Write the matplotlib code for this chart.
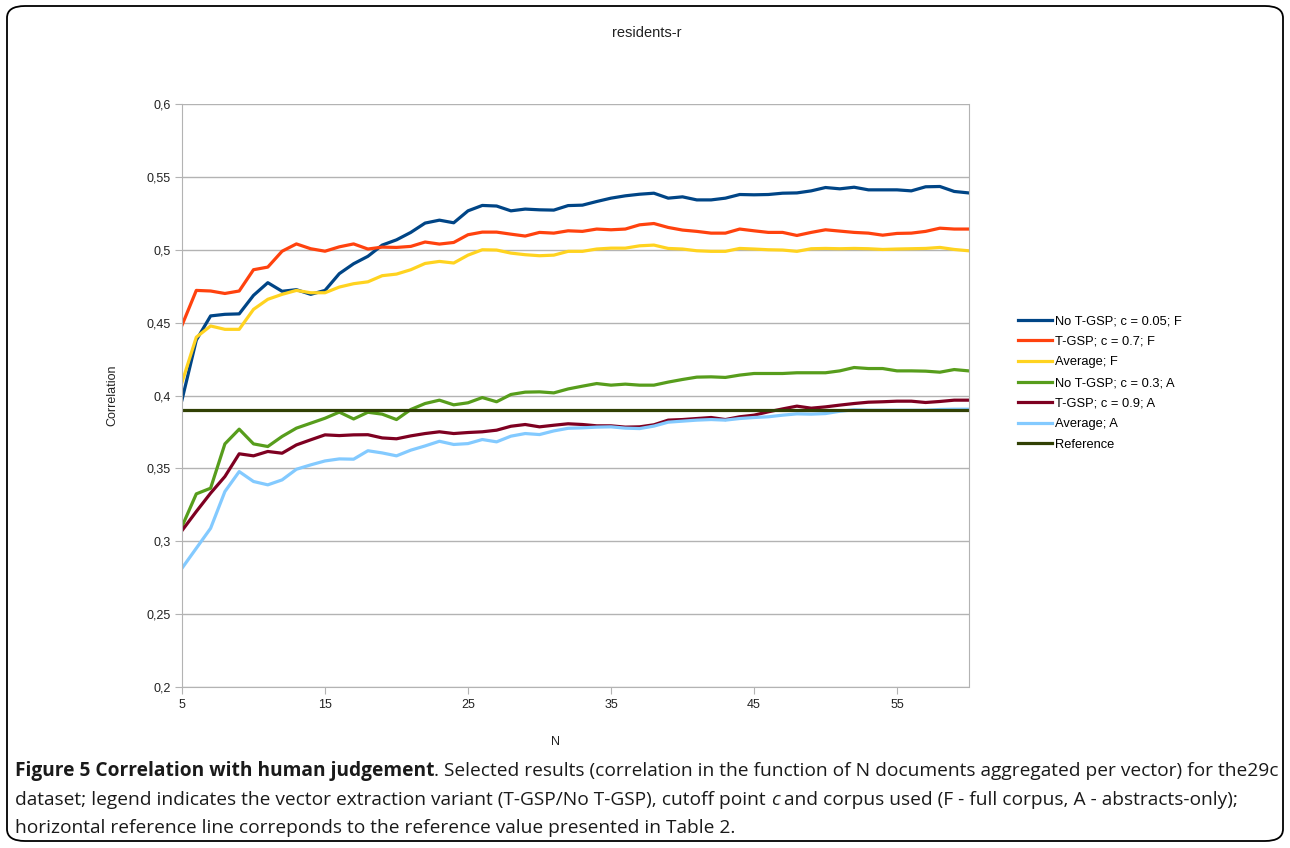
import matplotlib
matplotlib.use("Agg")
import matplotlib.pyplot as plt
from matplotlib.patches import FancyBboxPatch

n_docs = list(range(5, 61))

no_tgsp_f = [0.397, 0.438, 0.4546, 0.4557, 0.456, 0.4687, 0.4774, 0.4715, 0.4726, 0.4694,
             0.4721, 0.4836, 0.4904, 0.4955, 0.5032, 0.5068, 0.5119, 0.5183, 0.5203, 0.5185,
             0.5267, 0.5304, 0.530, 0.5267, 0.5279, 0.5274, 0.5272, 0.5303, 0.5306, 0.5331,
             0.5354, 0.537, 0.5381, 0.5388, 0.5354, 0.5363, 0.5342, 0.5342, 0.5354, 0.5379,
             0.5377, 0.5379, 0.5388, 0.539, 0.5404, 0.5427, 0.5418, 0.5429, 0.5411, 0.5411,
             0.5411, 0.5404, 0.5432, 0.5434, 0.540, 0.539]
tgsp_07_f = [0.4482, 0.4721, 0.4717, 0.470, 0.4717, 0.4863, 0.4881, 0.499, 0.504, 0.5007,
             0.499, 0.502, 0.504, 0.5005, 0.5018, 0.5016, 0.5023, 0.5053, 0.5039, 0.505,
             0.5103, 0.5121, 0.5121, 0.5107, 0.5094, 0.5119, 0.5114, 0.513, 0.5126, 0.5142,
             0.5137, 0.5142, 0.5171, 0.518, 0.5153, 0.5135, 0.5126, 0.5114, 0.5114, 0.5142,
             0.513, 0.5119, 0.5119, 0.5098, 0.5119, 0.5137, 0.5128, 0.5119, 0.5114, 0.510,
             0.5112, 0.5114, 0.5126, 0.5148, 0.5142, 0.5142]
average_f = [0.409, 0.440, 0.4477, 0.4454, 0.4454, 0.4591, 0.466, 0.4694, 0.4721, 0.4705,
             0.4705, 0.4744, 0.4767, 0.478, 0.4822, 0.4833, 0.4863, 0.4906, 0.492, 0.4909,
             0.4963, 0.500, 0.4998, 0.4977, 0.4966, 0.4959, 0.4963, 0.4989, 0.4989, 0.5005,
             0.5011, 0.5011, 0.5027, 0.5032, 0.5009, 0.5005, 0.4993, 0.4989, 0.4989, 0.5009,
             0.5005, 0.500, 0.4998, 0.4989, 0.5007, 0.5009, 0.5007, 0.5009, 0.5007, 0.5002,
             0.5005, 0.5007, 0.5009, 0.5016, 0.5002, 0.4993]
no_tgsp_a = [0.3101, 0.3325, 0.3364, 0.3668, 0.3769, 0.3668, 0.365, 0.3719, 0.3776, 0.381,
             0.3844, 0.3886, 0.3839, 0.3885, 0.3872, 0.3835, 0.3904, 0.3945, 0.3968, 0.3936,
             0.395, 0.3986, 0.3957, 0.4007, 0.4023, 0.4025, 0.4018, 0.4045, 0.4064, 0.4082,
             0.4071, 0.4078, 0.4071, 0.4071, 0.4092, 0.411, 0.4126, 0.4128, 0.4124, 0.414,
             0.4151, 0.4151, 0.4151, 0.4156, 0.4156, 0.4156, 0.4169, 0.4192, 0.4185, 0.4185,
             0.4169, 0.4169, 0.4167, 0.416, 0.4178, 0.4169]
tgsp_09_a = [0.3073, 0.3204, 0.333, 0.3444, 0.360, 0.3586, 0.3616, 0.3604, 0.3661, 0.3696,
             0.373, 0.3725, 0.373, 0.3731, 0.3709, 0.3703, 0.3723, 0.3739, 0.3751, 0.3739,
             0.3746, 0.3751, 0.3762, 0.3789, 0.3801, 0.3785, 0.3796, 0.3806, 0.3801, 0.3792,
             0.3792, 0.3783, 0.3785, 0.3799, 0.3831, 0.3835, 0.3842, 0.3849, 0.3835, 0.3854,
             0.3865, 0.3888, 0.3908, 0.3927, 0.3913, 0.3922, 0.3934, 0.3945, 0.3954, 0.3957,
             0.3961, 0.3961, 0.3952, 0.3959, 0.3968, 0.3968]
average_a = [0.2815, 0.2952, 0.3089, 0.3341, 0.3478, 0.341, 0.3387, 0.3421, 0.3494, 0.3524,
             0.3551, 0.3565, 0.3563, 0.3621, 0.3606, 0.3586, 0.3625, 0.3654, 0.3686, 0.3664,
             0.367, 0.3698, 0.3682, 0.3721, 0.3739, 0.3732, 0.3757, 0.3775, 0.3778, 0.3783,
             0.3785, 0.3776, 0.3773, 0.379, 0.3817, 0.3824, 0.3831, 0.3835, 0.3831, 0.3842,
             0.3849, 0.3854, 0.3865, 0.3874, 0.3872, 0.3876, 0.3892, 0.3902, 0.3899, 0.3899,
             0.3899, 0.3899, 0.3899, 0.3904, 0.3906, 0.3906]
reference_value = 0.39

series_labels = ["No T-GSP; c = 0.05; F", "T-GSP; c = 0.7; F", "Average; F",
                 "No T-GSP; c = 0.3; A", "T-GSP; c = 0.9; A", "Average; A", "Reference"]
series_colors = ["#004586", "#ff420e", "#ffd320", "#579d1c", "#7e0021", "#83caff", "#314004"]

x_ticks = [5, 15, 25, 35, 45, 55]
y_ticks = [0.2, 0.25, 0.3, 0.35, 0.4, 0.45, 0.5, 0.55, 0.6]
y_tick_labels = ["0,2", "0,25", "0,3", "0,35", "0,4", "0,45", "0,5", "0,55", "0,6"]

plt.rcParams["font.family"] = ["Liberation Sans", "DejaVu Sans"]

W, H = 1290, 848
fig = plt.figure(figsize=(W / 100, H / 100), dpi=100)
ax = fig.add_axes([182 / W, 1 - 687 / H, (968.5 - 182) / W, (687 - 104) / H])

all_series = [no_tgsp_f, tgsp_07_f, average_f, no_tgsp_a, tgsp_09_a, average_a,
              [reference_value] * len(n_docs)]
for vals, lab, col in zip(all_series, series_labels, series_colors):
    ax.plot(n_docs, vals, color=col, lw=2.3, label=lab, solid_joinstyle="round")

ax.set_xlim(5, 60)
ax.set_ylim(0.2, 0.6)
ax.set_xticks(x_ticks)
ax.set_yticks(y_ticks)
ax.set_yticklabels(y_tick_labels)
ax.grid(axis="y", color="#b3b3b3", lw=1)
ax.set_axisbelow(True)
for side in ["left", "bottom", "right"]:
    ax.spines[side].set_color("#b3b3b3")
ax.spines["top"].set_visible(False)
ax.tick_params(axis="both", colors="#b3b3b3", labelcolor="#222222", labelsize=9,
               length=5, direction="out")
ax.tick_params(axis="x", pad=4)
ax.tick_params(axis="y", pad=3)
ax.tick_params(right=False)

fig.text(647 / W, 1 - 33 / H, "residents-r", ha="center", va="center", fontsize=10.5,
         color="#222222")
fig.text(112 / W, 1 - 395 / H, "Correlation", ha="center", va="center", rotation=90,
         fontsize=9, color="#222222")
fig.text(555 / W, 1 - 742 / H, "N", ha="center", va="center", fontsize=9, color="#222222")

fig.legend(loc="center left", bbox_to_anchor=(1018 / W, 1 - 383 / H), frameon=False,
           fontsize=9.3, handlelength=2.6, handletextpad=0.3, labelspacing=0.66,
           borderpad=0, borderaxespad=0)

# rounded frame around chart and caption
frame = FancyBboxPatch((7 / W, 7 / H), (1283 - 7) / W, (842 - 7) / H,
                       boxstyle="round,pad=0,rounding_size=0.014",
                       transform=fig.transFigure, fill=False, ec="black", lw=1.3)
fig.patches.append(frame)

# caption, drawn piece by piece so bold/italic parts can share a line
cap_font = ["Open Sans", "DejaVu Sans"]
renderer = fig.canvas.get_renderer()

caption = [
    (771, [("Figure 5 Correlation with human judgement", "bold", "normal"),
           (". Selected results (correlation in the function of N documents "
            "aggregated per vector) for the29c", "normal", "normal")]),
    (800, [("dataset; legend indicates the vector extraction variant (T-GSP/No T-GSP), "
            "cutoff point ", "normal", "normal"),
           ("c", "normal", "italic"),
           (" and corpus used (F - full corpus, A - abstracts-only);", "normal", "normal")]),
    (828, [("horizontal reference line correponds to the reference value presented "
            "in Table 2.", "normal", "normal")]),
]


def caption_line(y_px, pieces, size):
    x = 15 / W
    texts = []
    for txt, weight, style in pieces:
        t = fig.text(x, 1 - y_px / H, txt, ha="left", va="center", fontsize=size,
                     family=cap_font, weight=weight, style=style, color="#1a1a1a")
        x += t.get_window_extent(renderer).width / W
        texts.append(t)
    return texts, x * W - 15


# size the caption so the first line spans the box width
probe, width = caption_line(*caption[0], 10)
for t in probe:
    t.remove()
cap_size = 10 * (1263 / width)
for y_px, pieces in caption:
    caption_line(y_px, pieces, cap_size)

fig.savefig("out.png", dpi=100)
